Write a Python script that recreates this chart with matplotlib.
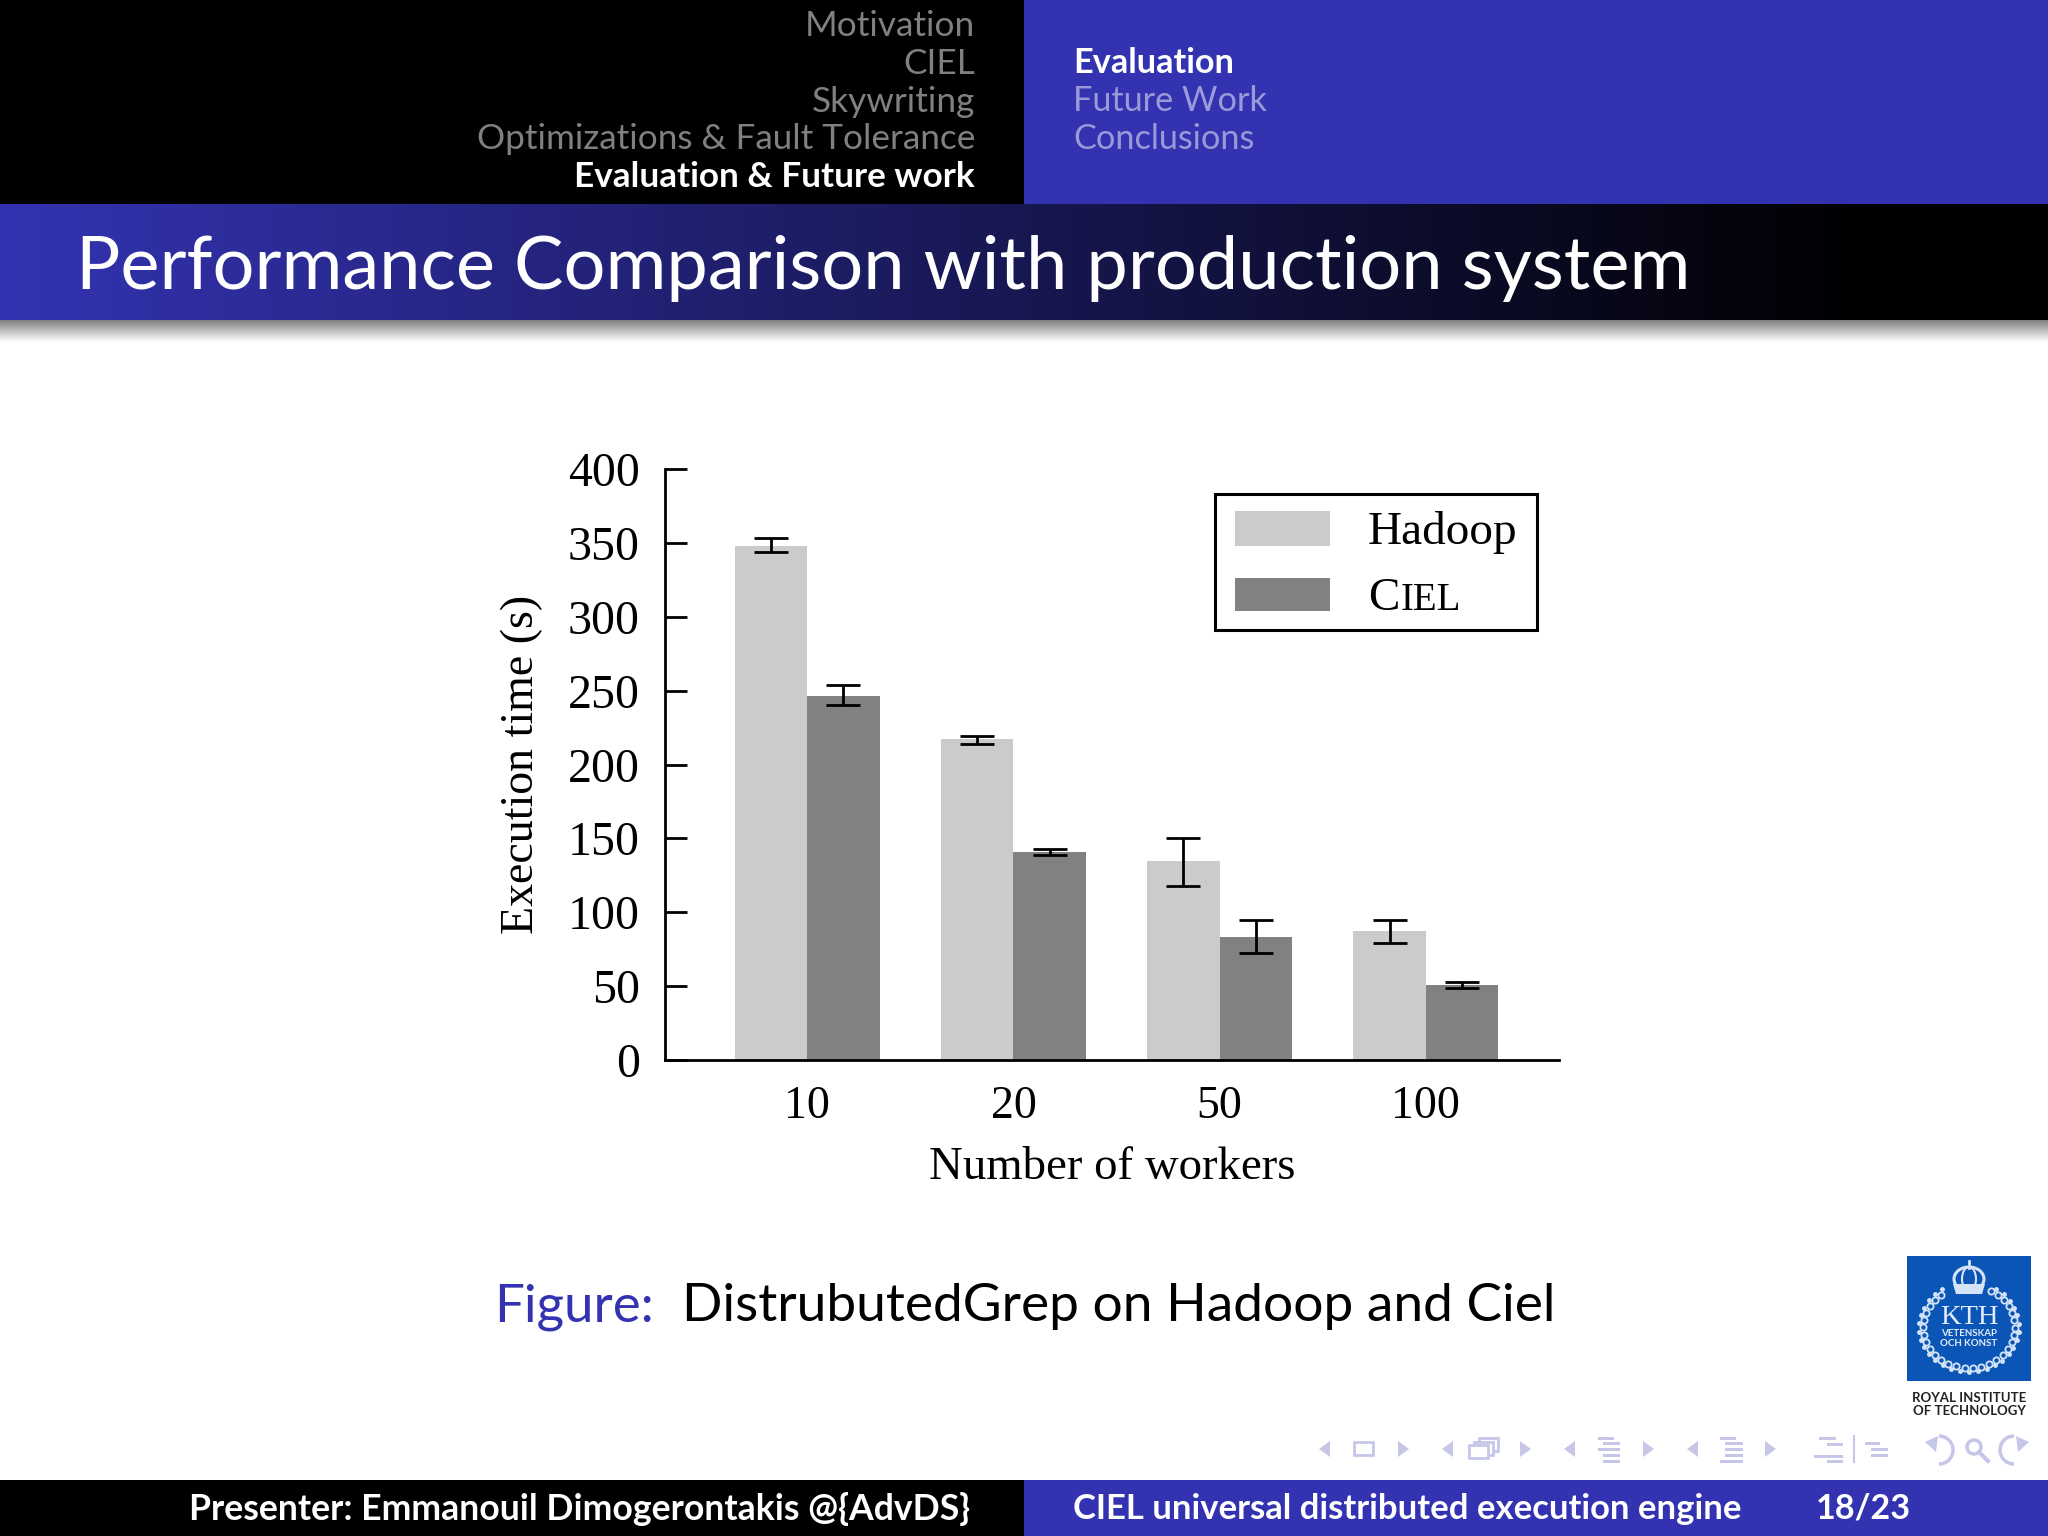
import matplotlib
matplotlib.use('Agg')
import matplotlib.pyplot as plt
import numpy as np
from matplotlib.patches import Rectangle, Circle, Polygon, Arc, Ellipse

workers = ['10', '20', '50', '100']
hadoop = [348, 217, 135, 87]
hadoop_low = [344, 214, 118, 79]
hadoop_high = [353.5, 219, 150, 95]
ciel = [246.5, 141, 83, 51]
ciel_low = [240, 139, 72.5, 49]
ciel_high = [253.5, 143, 94.5, 52.5]
yticks = [0, 50, 100, 150, 200, 250, 300, 350, 400]

sections = ['Motivation', 'CIEL', 'Skywriting', 'Optimizations & Fault Tolerance', 'Evaluation & Future work']
subsections = ['Evaluation', 'Future Work', 'Conclusions']

BLUE = '#3333b2'
NAV = '#c6c6e9'
LOGO = '#d5e3f6'
SANS = 'Lato'
SERIF = 'Liberation Serif'

W, H = 2048, 1536
fig = plt.figure(figsize=(20.48, 15.36), dpi=100, facecolor='white')

# slide background, in pixels
bg = fig.add_axes([0, 0, 1, 1])
bg.axis('off')

bg.add_patch(Rectangle((0, 0), 1024, 204, color='black', lw=0))
bg.add_patch(Rectangle((1024, 0), 1024, 204, color=BLUE, lw=0))

grad = np.clip(np.linspace(0, 1, 512) / 0.92, 0, 1)
rgb = np.zeros((1, 512, 3))
rgb[0, :, 0] = 0x33 / 255 * (1 - grad)
rgb[0, :, 1] = 0x33 / 255 * (1 - grad)
rgb[0, :, 2] = 0xb2 / 255 * (1 - grad)
bg.imshow(rgb, extent=[0, W, 320, 204], aspect='auto', zorder=1)

shadow = np.linspace(0.5, 1, 64).reshape(-1, 1)
bg.imshow(shadow, extent=[0, W, 342, 320], aspect='auto', cmap='gray', vmin=0, vmax=1, zorder=1)
bg.set_xlim(0, W)
bg.set_ylim(H, 0)

for i, s in enumerate(sections):
    col = 'white' if i == 4 else '#808080'
    bg.text(975, 26 + i * 37.8, s, color=col, fontsize=25.3, family=SANS, ha='right', va='center',
            weight='bold' if i == 4 else 'normal')
for i, s in enumerate(subsections):
    col = 'white' if i == 0 else '#9a9ad8'
    bg.text(1073, 63 + i * 37.8, s, color=col, fontsize=24.7, family=SANS, ha='left', va='center',
            weight='bold' if i == 0 else 'normal')

bg.text(76, 268, 'Performance Comparison with production system', color='white', fontsize=53.3,
        family=SANS, ha='left', va='center')

# caption
bg.text(494, 1307, 'Figure:', color=BLUE, fontsize=38, family=SANS, ha='left', va='center')
bg.text(682, 1307, 'DistrubutedGrep on Hadoop and Ciel', color='black', fontsize=38.3, family=SANS,
        ha='left', va='center')

# footer
bg.add_patch(Rectangle((0, 1480), 1024, 56, color='black', lw=0))
bg.add_patch(Rectangle((1024, 1480), 1024, 56, color=BLUE, lw=0))
bg.text(189, 1509, 'Presenter: Emmanouil Dimogerontakis @{AdvDS}', color='white', fontsize=25.7,
        family=SANS, ha='left', va='center', weight='bold')
bg.text(1073, 1509, 'CIEL universal distributed execution engine', color='white', fontsize=24.9,
        family=SANS, ha='left', va='center', weight='bold')
bg.text(1816, 1509, '18/23', color='white', fontsize=24.6, family=SANS, ha='left', va='center', weight='bold')

# logo
bg.add_patch(Rectangle((1907, 1256), 124, 125, color='#0a55b5', lw=0))
cx, cy = 1969, 1327
t = np.radians(np.arange(-62, 242, 10.5))
bg.plot(cx + 46 * np.cos(t), cy + 41 * np.sin(t), ls='none', marker='o', ms=4.5, mfc='#0a55b5', mec=LOGO, mew=1.3)
bg.plot(cx + 50 * np.cos(t + 0.09), cy + 45 * np.sin(t + 0.09), ls='none', marker='o', ms=2.5, color=LOGO)
bg.add_patch(Ellipse((cx, 1279), 30, 24, fill=False, ec=LOGO, lw=2.2))
bg.add_patch(Ellipse((cx, 1279), 14, 24, fill=False, ec=LOGO, lw=1.5))
bg.add_patch(Polygon([(cx - 16, 1284), (cx + 16, 1284), (cx + 13, 1294), (cx - 13, 1294)], closed=True, fc=LOGO, ec='none'))
bg.plot([cx, cx], [1261, 1268], color=LOGO, lw=2)
bg.text(cx, 1317, 'KTH', color='#e2ecfa', fontsize=20.5, family=SERIF, ha='center', va='center')
bg.text(cx, 1334, 'VETENSKAP', color='#e2ecfa', fontsize=7, family=SANS, ha='center', va='center', weight='bold')
bg.text(cx, 1344, 'OCH KONST', color='#e2ecfa', fontsize=7, family=SANS, ha='center', va='center', weight='bold')
bg.text(1969, 1398, 'ROYAL INSTITUTE', color='#222222', fontsize=9.5, family=SANS, ha='center', va='center', weight='bold')
bg.text(1969, 1411, 'OF TECHNOLOGY', color='#222222', fontsize=9.5, family=SANS, ha='center', va='center', weight='bold')


# navigation symbols, positions taken from the slide
def tri(x0, x1):
    bg.add_patch(Polygon([(x0, 1449), (x1, 1441), (x1, 1457)], closed=True, fc=NAV, ec='none'))


def lines(spans, ys):
    for (x0, x1), y in zip(spans, ys):
        bg.add_patch(Rectangle((x0, y), x1 - x0, 3, fc=NAV, ec='none'))


for x0, x1 in [(1319, 1330), (1442, 1453), (1564, 1575), (1687, 1698)]:
    tri(x0, x1)
for x0, x1 in [(1398, 1409), (1520, 1531), (1643, 1654), (1765, 1776)]:
    tri(x1, x0)
bg.add_patch(Rectangle((1354, 1442), 19, 13, fill=False, ec=NAV, lw=2))
for dx, dy in [(10, -7), (5, -3.5), (0, 0)]:
    bg.add_patch(Rectangle((1469 + dx, 1445 + dy), 19, 13, fc='white', ec=NAV, lw=2))
five = [1437, 1442, 1448, 1454, 1460]
lines([(1598, 1614), (1603, 1620), (1598, 1620), (1603, 1620), (1603, 1620)], five)
lines([(1720, 1736), (1725, 1743), (1725, 1743), (1725, 1743), (1720, 1743)], five)
lines([(1819, 1836), (1827, 1843), (1814, 1843), (1827, 1843)], [1437, 1443, 1455, 1460])
bg.plot([1854, 1854], [1436, 1462], color=NAV, lw=1.5)
lines([(1865, 1880), (1871, 1888), (1871, 1888)], [1442, 1448, 1454])
bg.add_patch(Arc((1939, 1450), 28, 28, theta1=-90, theta2=90, ec=NAV, lw=2.5))
bg.add_patch(Polygon([(1925, 1442), (1938, 1436), (1936, 1452)], closed=True, fc=NAV, ec='none'))
bg.add_patch(Circle((1974, 1447), 7, fill=False, ec=NAV, lw=2.5))
bg.plot([1979, 1988], [1452, 1461], color=NAV, lw=3)
bg.add_patch(Arc((2014, 1450), 28, 28, theta1=90, theta2=270, ec=NAV, lw=2.5))
bg.add_patch(Polygon([(2029, 1442), (2016, 1436), (2018, 1452)], closed=True, fc=NAV, ec='none'))

# the chart
ax = fig.add_axes([665 / W, 1 - 1060 / H, (1559 - 665) / W, (1060 - 469) / H])
ax.patch.set_alpha(0)
x = np.arange(len(workers))
bw = 0.351
ax.bar(x - bw / 2, hadoop, bw, color='#cccacd', label='Hadoop')
ax.bar(x + bw / 2, ciel, bw, color='#828083', label='C')

for i in range(len(workers)):
    ax.errorbar(x[i] - bw / 2, hadoop[i],
                yerr=[[hadoop[i] - hadoop_low[i]], [hadoop_high[i] - hadoop[i]]],
                color='black', lw=2, capsize=12, capthick=2)
    ax.errorbar(x[i] + bw / 2, ciel[i],
                yerr=[[ciel[i] - ciel_low[i]], [ciel_high[i] - ciel[i]]],
                color='black', lw=2, capsize=12, capthick=2)

ax.set_xlim(-0.69, 3.646)
ax.set_ylim(0, 400)
ax.set_yticks(yticks)
ax.set_xticks(x)
ax.set_xticklabels(workers)
ax.spines['top'].set_visible(False)
ax.spines['right'].set_visible(False)
ax.spines['left'].set_linewidth(2)
ax.spines['bottom'].set_linewidth(2)
ax.tick_params(axis='y', direction='in', length=16, width=2, pad=18, labelsize=34.5)
ax.tick_params(axis='x', length=0, pad=18, labelsize=33)
for t in ax.get_xticklabels() + ax.get_yticklabels():
    t.set_family(SERIF)
ax.set_xlabel('Number of workers', fontsize=33.7, family=SERIF, labelpad=14)
ax.set_ylabel('Execution time (s)', fontsize=33, family=SERIF, labelpad=18)

# legend box drawn by hand, small caps are not available in a matplotlib legend
bg.set_zorder(0)
ax.set_zorder(1)
bg.add_patch(Rectangle((1215, 494), 322, 136, fill=False, ec='black', lw=2.2, zorder=5))
bg.add_patch(Rectangle((1235, 511), 95, 35, fc='#cccacd', ec='none', zorder=5))
bg.add_patch(Rectangle((1235, 578), 95, 33, fc='#828083', ec='none', zorder=5))
bg.text(1368, 532, 'Hadoop', fontsize=34, family=SERIF, va='center', zorder=5)
bg.text(1368, 599, 'C', fontsize=34, family=SERIF, va='center', zorder=5)
bg.text(1401, 601, 'IEL', fontsize=28, family=SERIF, va='center', zorder=5)

fig.savefig('out.png', dpi=100)
